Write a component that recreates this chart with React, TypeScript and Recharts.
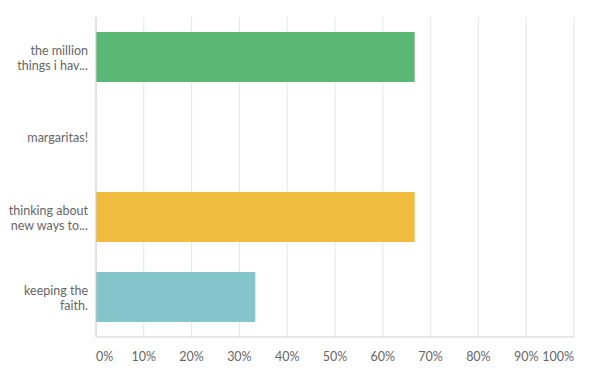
import React from "react";
import { BarChart, Bar, XAxis, YAxis, CartesianGrid, Cell } from "recharts";

const categories = ["the million\nthings i hav...", "margaritas!", "thinking about\nnew ways to...", "keeping the\nfaith."];
const values = [66.67, 0, 66.67, 33.33];
const colors = ["#5bb874", "#5bb874", "#f0bc3e", "#83c5cb"];
const xTicks = [0, 10, 20, 30, 40, 50, 60, 70, 80, 90, 100];

const data = categories.map((c, i) => ({ name: c, value: values[i] }));

const FONT = "Lato, 'Open Sans', sans-serif";

const YTick = (props: any) => {
  const { y, payload } = props;
  const lines = String(payload.value).split("\n");
  const lh = 15;
  const start = y - ((lines.length - 1) * lh) / 2;
  return (
    <text x={88} y={start} textAnchor="end" fill="#666666" fontSize={12.5} fontFamily={FONT} dominantBaseline="central">
      {lines.map((l, i) => (
        <tspan key={i} x={88} y={start + i * lh} dominantBaseline="central">{l}</tspan>
      ))}
    </text>
  );
};

const XTick = (props: any) => {
  const { x, payload } = props;
  const v = payload.value;
  const anchor = v === 0 ? "start" : v === 100 ? "end" : "middle";
  return (
    <text x={x} y={356} textAnchor={anchor} fill="#666666" fontSize={12.5} fontFamily={FONT} dominantBaseline="central">
      {v + "%"}
    </text>
  );
};

export default function App() {
  return (
    <div style={{ position: "absolute", left: 0, top: 0, width: 596, height: 377, background: "#fff" }}>
      <BarChart
        width={596}
        height={377}
        data={data}
        layout="vertical"
        margin={{ top: 17, right: 22, bottom: 0, left: 0 }}
      >
        <CartesianGrid horizontal={false} stroke="#e6e6e6" />
        <XAxis
          type="number"
          domain={[0, 100]}
          ticks={xTicks}
          height={40}
          axisLine={{ stroke: "#cfcfcf" }}
          tickLine={false}
          tick={<XTick />}
          interval={0}
        />
        <YAxis
          type="category"
          dataKey="name"
          width={96}
          axisLine={{ stroke: "#cfcfcf" }}
          tickLine={false}
          tick={<YTick />}
          interval={0}
        />
        <Bar dataKey="value" barSize={50} isAnimationActive={false}>
          {data.map((d, i) => (
            <Cell key={i} fill={colors[i]} />
          ))}
        </Bar>
      </BarChart>
    </div>
  );
}
